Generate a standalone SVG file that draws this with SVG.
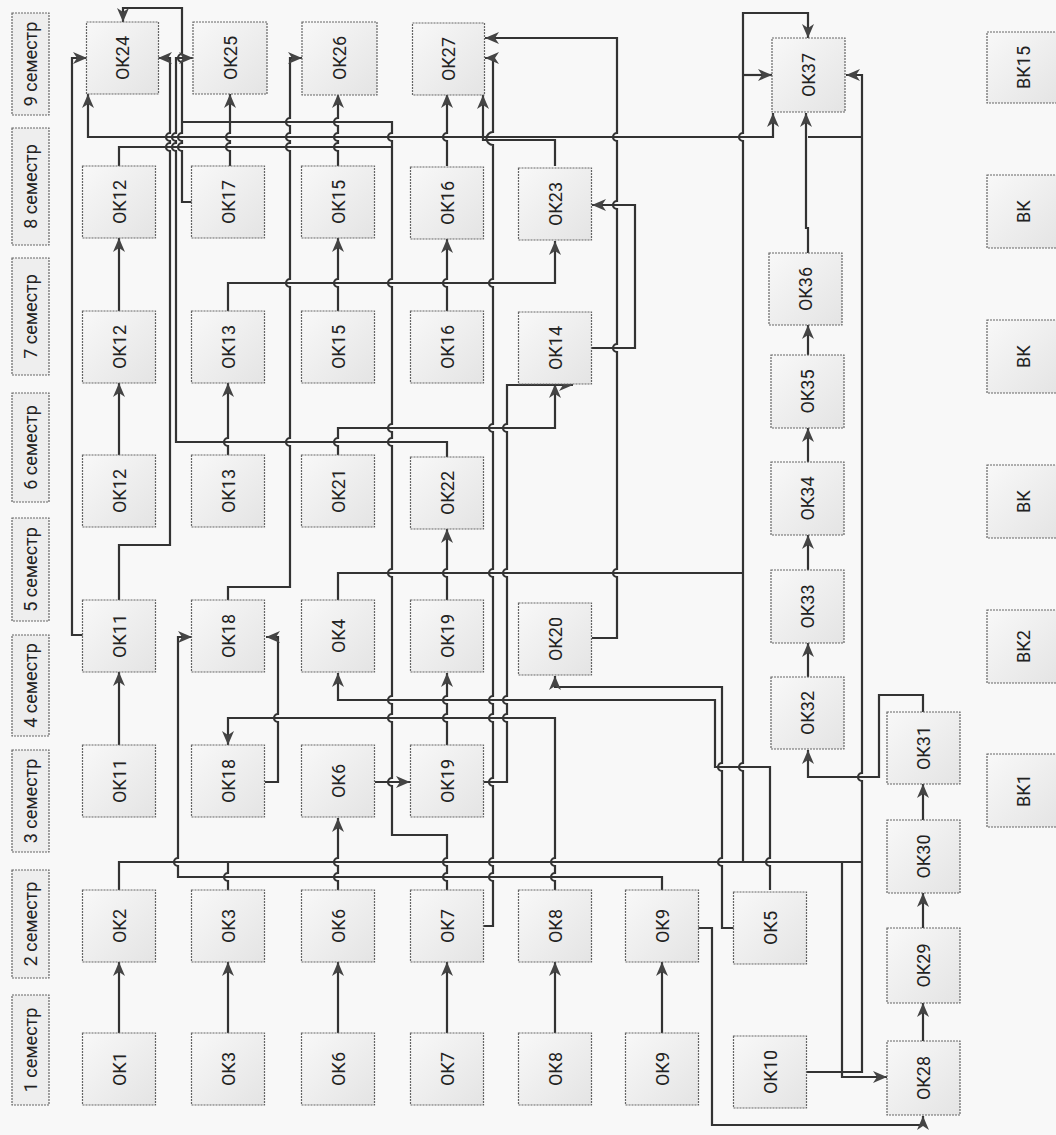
<svg xmlns="http://www.w3.org/2000/svg" width="1056" height="1135" viewBox="0 0 1056 1135">
<defs>
<linearGradient id="g" x1="0" y1="0" x2="1" y2="1"><stop offset="0" stop-color="#f8f8f8"/><stop offset="1" stop-color="#e4e4e4"/></linearGradient>
<marker id="ah" viewBox="0 0 14 12" refX="14" refY="6" markerWidth="14" markerHeight="12" markerUnits="userSpaceOnUse" orient="auto"><path d="M0,0 L14,6 L0,12 L4,6 z" fill="#444"/></marker>
</defs>
<style>
.n rect{fill:url(#g);stroke:#666;stroke-width:1.2;stroke-dasharray:2 1}
.s rect{fill:#eeeeee;stroke:#666;stroke-width:1.2;stroke-dasharray:2 1}
text{font-family:Roboto,"Liberation Sans",sans-serif;fill:#222;text-anchor:middle;dominant-baseline:central}
.n text{font-size:18px}
.s text{font-size:18px}
.c path{fill:none;stroke:#333;stroke-width:2.2}
.c path.a{marker-end:url(#ah)}
</style>
<rect width="1056" height="1135" fill="#f8f8f8"/>

<g id="semesters">
<g class="s" id="s9"><rect x="12" y="13" width="37" height="102"/><text transform="translate(30.5,64) rotate(-90)">9 семестр</text></g>
<g class="s" id="s8"><rect x="12" y="128" width="37" height="117"/><text transform="translate(30.5,186.5) rotate(-90)">8 семестр</text></g>
<g class="s" id="s7"><rect x="12" y="258" width="37" height="117"/><text transform="translate(30.5,316.5) rotate(-90)">7 семестр</text></g>
<g class="s" id="s6"><rect x="12" y="393" width="37" height="109"/><text transform="translate(30.5,447.5) rotate(-90)">6 семестр</text></g>
<g class="s" id="s5"><rect x="12" y="518" width="37" height="103"/><text transform="translate(30.5,569.5) rotate(-90)">5 семестр</text></g>
<g class="s" id="s4"><rect x="12" y="635" width="37" height="101"/><text transform="translate(30.5,685.5) rotate(-90)">4 семестр</text></g>
<g class="s" id="s3"><rect x="12" y="750" width="37" height="102"/><text transform="translate(30.5,801) rotate(-90)">3 семестр</text></g>
<g class="s" id="s2"><rect x="12" y="870" width="37" height="108"/><text transform="translate(30.5,924) rotate(-90)">2 семестр</text></g>
<g class="s" id="s1"><rect x="12" y="995" width="37" height="110"/><text transform="translate(30.5,1050) rotate(-90)">1 семестр</text></g>
</g>

<g class="c" id="connectors">
<path class="a" d="M119,1033 L119,962"/>
<path class="a" d="M228,1033 L228,962"/>
<path class="a" d="M338,1033 L338,962"/>
<path class="a" d="M447,1033 L447,962"/>
<path class="a" d="M555,1033 L555,962"/>
<path class="a" d="M662,1033 L662,962"/>
<path class="a" d="M119,745 L119,672"/>
<path class="a" d="M119,455 L119,383"/>
<path class="a" d="M119,311 L119,238"/>
<path class="a" d="M228,455 L228,446 A4 4 0 0 1 228,438 L228,383"/>
<path class="a" d="M338,311 L338,287 A4 4 0 0 1 338,279 L338,238"/>
<path class="a" d="M447,311 L447,287 A4 4 0 0 1 447,279 L447,239"/>
<path class="a" d="M338,166 L338,151 A4 4 0 0 1 338,143 L338,141 A4 4 0 0 1 338,133 L338,126 A4 4 0 0 1 338,118 L338,94"/>
<path class="a" d="M447,166 L447,141 A4 4 0 0 1 447,133 L447,94"/>
<path class="a" d="M447,745 L447,722 A4 4 0 0 1 447,714 L447,704 A4 4 0 0 1 447,696 L447,673"/>
<path class="a" d="M447,600 L447,577 A4 4 0 0 1 447,569 L447,529"/>
<path class="a" d="M338,890 L338,881 A4 4 0 0 1 338,873 L338,866 A4 4 0 0 1 338,858 L338,818"/>
<path class="a" d="M375,782 L410,782"/>
<path class="a" d="M923,1041 L923,1003"/>
<path class="a" d="M923,928 L923,893"/>
<path class="a" d="M923,820 L923,784"/>
<path class="a" d="M808,677 L808,643"/>
<path class="a" d="M808,570 L808,535"/>
<path class="a" d="M808,462 L808,428"/>
<path class="a" d="M808,355 L808,325"/>
<path class="a" d="M808,253 L808,228 L806,228 L806,113"/>
<path class="a" d="M923,712 L923,695 L879,695 L879,777 L808,777 L808,750"/>
<path class="a" d="M193,202 L182,202 L182,151 A4 4 0 0 1 182,143 L182,141 A4 4 0 0 1 182,133 L182,62 A4 4 0 0 1 182,54 L182,8 L123,8 L123,22"/>
<path class="a" d="M230,166 L230,151 A4 4 0 0 1 230,143 L230,141 A4 4 0 0 1 230,133 L230,94"/>
<path d="M447,890 L447,881 A4 4 0 0 1 447,873 L447,866 A4 4 0 0 1 447,858 L447,835 L392,835 L392,786 A4 4 0 0 1 392,778 L392,722 A4 4 0 0 1 392,714 L392,704 A4 4 0 0 1 392,696 L392,577 A4 4 0 0 1 392,569 L392,446 A4 4 0 0 1 392,438 L392,432 A4 4 0 0 1 392,424 L392,287 A4 4 0 0 1 392,279 L392,141 A4 4 0 0 1 392,133 L392,122 L182,122"/>
<path class="a" d="M228,600 L228,587 L290,587 L290,446 A4 4 0 0 1 290,438 L290,287 A4 4 0 0 1 290,279 L290,151 A4 4 0 0 1 290,143 L290,141 A4 4 0 0 1 290,133 L290,126 A4 4 0 0 1 290,118 L290,58 L302,58"/>
<path class="a" d="M83,635 L72,635 L72,58 L87,58"/>
<path class="a" d="M119,600 L119,545 L170,545 L170,151 A4 4 0 0 1 170,143 L170,141 A4 4 0 0 1 170,133 L170,58 L158,58"/>
<path class="a" d="M447,457 L447,442 L176,442 L176,151 A4 4 0 0 1 176,143 L176,141 A4 4 0 0 1 176,133 L176,58 L193,58"/>
<path class="a" d="M338,455 L338,446 A4 4 0 0 1 338,438 L338,428 L555,428 L555,384"/>
<path class="a" d="M483,782 L507,782 L507,722 A4 4 0 0 1 507,714 L507,704 A4 4 0 0 1 507,696 L507,577 A4 4 0 0 1 507,569 L507,432 A4 4 0 0 1 507,424 L507,385 L573,385"/>
<path class="a" d="M483,926 L493,926 L493,881 A4 4 0 0 1 493,873 L493,866 A4 4 0 0 1 493,858 L493,786 A4 4 0 0 1 493,778 L493,722 A4 4 0 0 1 493,714 L493,704 A4 4 0 0 1 493,696 L493,577 A4 4 0 0 1 493,569 L493,432 A4 4 0 0 1 493,424 L493,287 A4 4 0 0 1 493,279 L493,145 A6.5 6.5 0 0 1 493,132 L493,58 L485,58"/>
<path class="a" d="M555,890 L555,881 A4 4 0 0 1 555,873 L555,866 A4 4 0 0 1 555,858 L555,718 L228,718 L228,745"/>
<path class="a" d="M265,782 L278,782 L278,722 A4 4 0 0 1 278,714 L278,637 L266,637"/>
<path class="a" d="M662,890 L662,877 L178,877 L178,866 A4 4 0 0 1 178,858 L178,637 L192,637"/>
<path d="M119,890 L119,862 L862,862"/>
<path d="M228,890 L228,881 A4 4 0 0 1 228,873 L228,862"/>
<path class="a" d="M743,862 L743,771 A4 4 0 0 1 743,763 L743,141 A4 4 0 0 1 743,133 L743,13 L808,13 L808,38"/>
<path class="a" d="M743,75 L772,75"/>
<path class="a" d="M842,862 L842,1077 L887,1077"/>
<path d="M338,600 L338,573 L743,573"/>
<path class="a" d="M770,890 L770,866 A4 4 0 0 1 770,858 L770,767 L715,767 L715,700 L338,700 L338,673"/>
<path class="a" d="M734,928 L722,928 L722,866 A4 4 0 0 1 722,858 L722,771 A4 4 0 0 1 722,763 L722,687 L555,687 L555,676"/>
<path class="a" d="M592,638 L617,638 L617,577 A4 4 0 0 1 617,569 L617,352 A4 4 0 0 1 617,344 L617,209 A4 4 0 0 1 617,201 L617,141 A4 4 0 0 1 617,133 L617,38 L485,38"/>
<path class="a" d="M592,348 L635,348 L635,205 L592,205"/>
<path class="a" d="M228,311 L228,283 L555,283 L555,241"/>
<path class="a" d="M555,166 L555,140 L483,140 L483,95"/>
<path class="a" d="M430,137 L88,137 L88,94"/>
<path class="a" d="M430,137 L773,137 L773,113"/>
<path d="M119,166 L119,147 L392,147"/>
<path class="a" d="M698,928 L712,928 L712,1125 L923,1125 L923,1116"/>
<path class="a" d="M807,1072 L862,1072 L862,781 A4 4 0 0 1 862,773 L862,75 L846,75"/>
<path d="M862,137 L808,137"/>
</g>

<g id="nodes">
<g class="n" id="ok1"><rect x="82.5" y="1033" width="73" height="72"/><text transform="translate(119,1069) rotate(-90)">ОК1</text></g>
<g class="n" id="ok3a"><rect x="191.5" y="1033" width="73" height="72"/><text transform="translate(228,1069) rotate(-90)">ОК3</text></g>
<g class="n" id="ok6a"><rect x="301.5" y="1033" width="73" height="72"/><text transform="translate(338,1069) rotate(-90)">ОК6</text></g>
<g class="n" id="ok7a"><rect x="410.5" y="1033" width="73" height="72"/><text transform="translate(447,1069) rotate(-90)">ОК7</text></g>
<g class="n" id="ok8a"><rect x="518.5" y="1033" width="73" height="72"/><text transform="translate(555,1069) rotate(-90)">ОК8</text></g>
<g class="n" id="ok9a"><rect x="625.5" y="1033" width="73" height="72"/><text transform="translate(662,1069) rotate(-90)">ОК9</text></g>
<g class="n" id="ok10"><rect x="733.5" y="1036" width="73" height="72"/><text transform="translate(770,1072) rotate(-90)">ОК10</text></g>

<g class="n" id="ok2"><rect x="82.5" y="890" width="73" height="72"/><text transform="translate(119,926) rotate(-90)">ОК2</text></g>
<g class="n" id="ok3b"><rect x="191.5" y="890" width="73" height="72"/><text transform="translate(228,926) rotate(-90)">ОК3</text></g>
<g class="n" id="ok6b"><rect x="301.5" y="890" width="73" height="72"/><text transform="translate(338,926) rotate(-90)">ОК6</text></g>
<g class="n" id="ok7b"><rect x="410.5" y="890" width="73" height="72"/><text transform="translate(447,926) rotate(-90)">ОК7</text></g>
<g class="n" id="ok8b"><rect x="518.5" y="890" width="73" height="72"/><text transform="translate(555,926) rotate(-90)">ОК8</text></g>
<g class="n" id="ok9b"><rect x="625.5" y="890" width="73" height="72"/><text transform="translate(662,926) rotate(-90)">ОК9</text></g>
<g class="n" id="ok5"><rect x="733.5" y="892" width="73" height="72"/><text transform="translate(770,928) rotate(-90)">ОК5</text></g>

<g class="n" id="ok11a"><rect x="82.5" y="745" width="73" height="72"/><text transform="translate(119,781) rotate(-90)">ОК11</text></g>
<g class="n" id="ok18a"><rect x="191.5" y="745" width="73" height="72"/><text transform="translate(228,781) rotate(-90)">ОК18</text></g>
<g class="n" id="ok6c"><rect x="301.5" y="745" width="73" height="72"/><text transform="translate(338,781) rotate(-90)">ОК6</text></g>
<g class="n" id="ok19a"><rect x="410.5" y="745" width="73" height="72"/><text transform="translate(447,781) rotate(-90)">ОК19</text></g>

<g class="n" id="ok11b"><rect x="82.5" y="600" width="73" height="72"/><text transform="translate(119,636) rotate(-90)">ОК11</text></g>
<g class="n" id="ok18b"><rect x="191.5" y="600" width="73" height="72"/><text transform="translate(228,636) rotate(-90)">ОК18</text></g>
<g class="n" id="ok4"><rect x="301.5" y="600" width="73" height="72"/><text transform="translate(338,636) rotate(-90)">ОК4</text></g>
<g class="n" id="ok19b"><rect x="410.5" y="600" width="73" height="72"/><text transform="translate(447,636) rotate(-90)">ОК19</text></g>
<g class="n" id="ok20"><rect x="518.5" y="603" width="73" height="72"/><text transform="translate(555,639) rotate(-90)">ОК20</text></g>

<g class="n" id="ok12a"><rect x="82.5" y="455" width="73" height="72"/><text transform="translate(119,491) rotate(-90)">ОК12</text></g>
<g class="n" id="ok13a"><rect x="191.5" y="455" width="73" height="72"/><text transform="translate(228,491) rotate(-90)">ОК13</text></g>
<g class="n" id="ok21"><rect x="301.5" y="455" width="73" height="72"/><text transform="translate(338,491) rotate(-90)">ОК21</text></g>
<g class="n" id="ok22"><rect x="410.5" y="457" width="73" height="72"/><text transform="translate(447,493) rotate(-90)">ОК22</text></g>

<g class="n" id="ok12b"><rect x="82.5" y="311" width="73" height="72"/><text transform="translate(119,347) rotate(-90)">ОК12</text></g>
<g class="n" id="ok13b"><rect x="191.5" y="311" width="73" height="72"/><text transform="translate(228,347) rotate(-90)">ОК13</text></g>
<g class="n" id="ok15a"><rect x="301.5" y="311" width="73" height="72"/><text transform="translate(338,347) rotate(-90)">ОК15</text></g>
<g class="n" id="ok16a"><rect x="410.5" y="311" width="73" height="72"/><text transform="translate(447,347) rotate(-90)">ОК16</text></g>
<g class="n" id="ok14"><rect x="518.5" y="312" width="73" height="72"/><text transform="translate(555,348) rotate(-90)">ОК14</text></g>

<g class="n" id="ok12c"><rect x="82.5" y="166" width="73" height="72"/><text transform="translate(119,202) rotate(-90)">ОК12</text></g>
<g class="n" id="ok17"><rect x="191.5" y="166" width="73" height="72"/><text transform="translate(228,202) rotate(-90)">ОК17</text></g>
<g class="n" id="ok15b"><rect x="301.5" y="166" width="73" height="72"/><text transform="translate(338,202) rotate(-90)">ОК15</text></g>
<g class="n" id="ok16b"><rect x="410.5" y="167" width="73" height="72"/><text transform="translate(447,203) rotate(-90)">ОК16</text></g>
<g class="n" id="ok23"><rect x="518.5" y="168" width="73" height="72"/><text transform="translate(555,204) rotate(-90)">ОК23</text></g>

<g class="n" id="ok24"><rect x="86.5" y="22" width="72" height="72"/><text transform="translate(122.5,58) rotate(-90)">ОК24</text></g>
<g class="n" id="ok25"><rect x="193" y="22" width="74" height="72"/><text transform="translate(230,58) rotate(-90)">ОК25</text></g>
<g class="n" id="ok26"><rect x="302" y="22" width="75" height="73"/><text transform="translate(339.5,58) rotate(-90)">ОК26</text></g>
<g class="n" id="ok27"><rect x="412.5" y="23" width="72" height="72"/><text transform="translate(448.5,59) rotate(-90)">ОК27</text></g>

<g class="n" id="ok37"><rect x="772" y="38" width="73" height="74"/><text transform="translate(808.5,75) rotate(-90)">ОК37</text></g>
<g class="n" id="ok36"><rect x="769" y="253" width="73" height="72"/><text transform="translate(805.5,289) rotate(-90)">ОК36</text></g>
<g class="n" id="ok35"><rect x="771" y="355" width="73" height="73"/><text transform="translate(807.5,391.5) rotate(-90)">ОК35</text></g>
<g class="n" id="ok34"><rect x="771" y="462" width="73" height="73"/><text transform="translate(807.5,498.5) rotate(-90)">ОК34</text></g>
<g class="n" id="ok33"><rect x="771" y="570" width="73" height="73"/><text transform="translate(807.5,606.5) rotate(-90)">ОК33</text></g>
<g class="n" id="ok32"><rect x="771" y="677" width="73" height="72"/><text transform="translate(807.5,713) rotate(-90)">ОК32</text></g>

<g class="n" id="ok31"><rect x="887" y="712" width="73" height="72"/><text transform="translate(923.5,748) rotate(-90)">ОК31</text></g>
<g class="n" id="ok30"><rect x="887" y="820" width="73" height="73"/><text transform="translate(923.5,856.5) rotate(-90)">ОК30</text></g>
<g class="n" id="ok29"><rect x="887" y="928" width="73" height="75"/><text transform="translate(923.5,965.5) rotate(-90)">ОК29</text></g>
<g class="n" id="ok28"><rect x="887" y="1041" width="73" height="74"/><text transform="translate(923.5,1078) rotate(-90)">ОК28</text></g>

<g class="n" id="vk15"><rect x="987" y="32" width="73" height="71"/><text transform="translate(1023,67.5) rotate(-90)">ВК15</text></g>
<g class="n" id="vk8"><rect x="987" y="175" width="73" height="73"/><text transform="translate(1023,211.5) rotate(-90)">ВК</text></g>
<g class="n" id="vk7"><rect x="987" y="320" width="73" height="73"/><text transform="translate(1023,356.5) rotate(-90)">ВК</text></g>
<g class="n" id="vk6"><rect x="987" y="465" width="73" height="73"/><text transform="translate(1023,501.5) rotate(-90)">ВК</text></g>
<g class="n" id="vk2"><rect x="987" y="610" width="73" height="73"/><text transform="translate(1023,646.5) rotate(-90)">ВК2</text></g>
<g class="n" id="vk1"><rect x="987" y="754" width="73" height="73"/><text transform="translate(1023,790.5) rotate(-90)">ВК1</text></g>
</g>
</svg>
